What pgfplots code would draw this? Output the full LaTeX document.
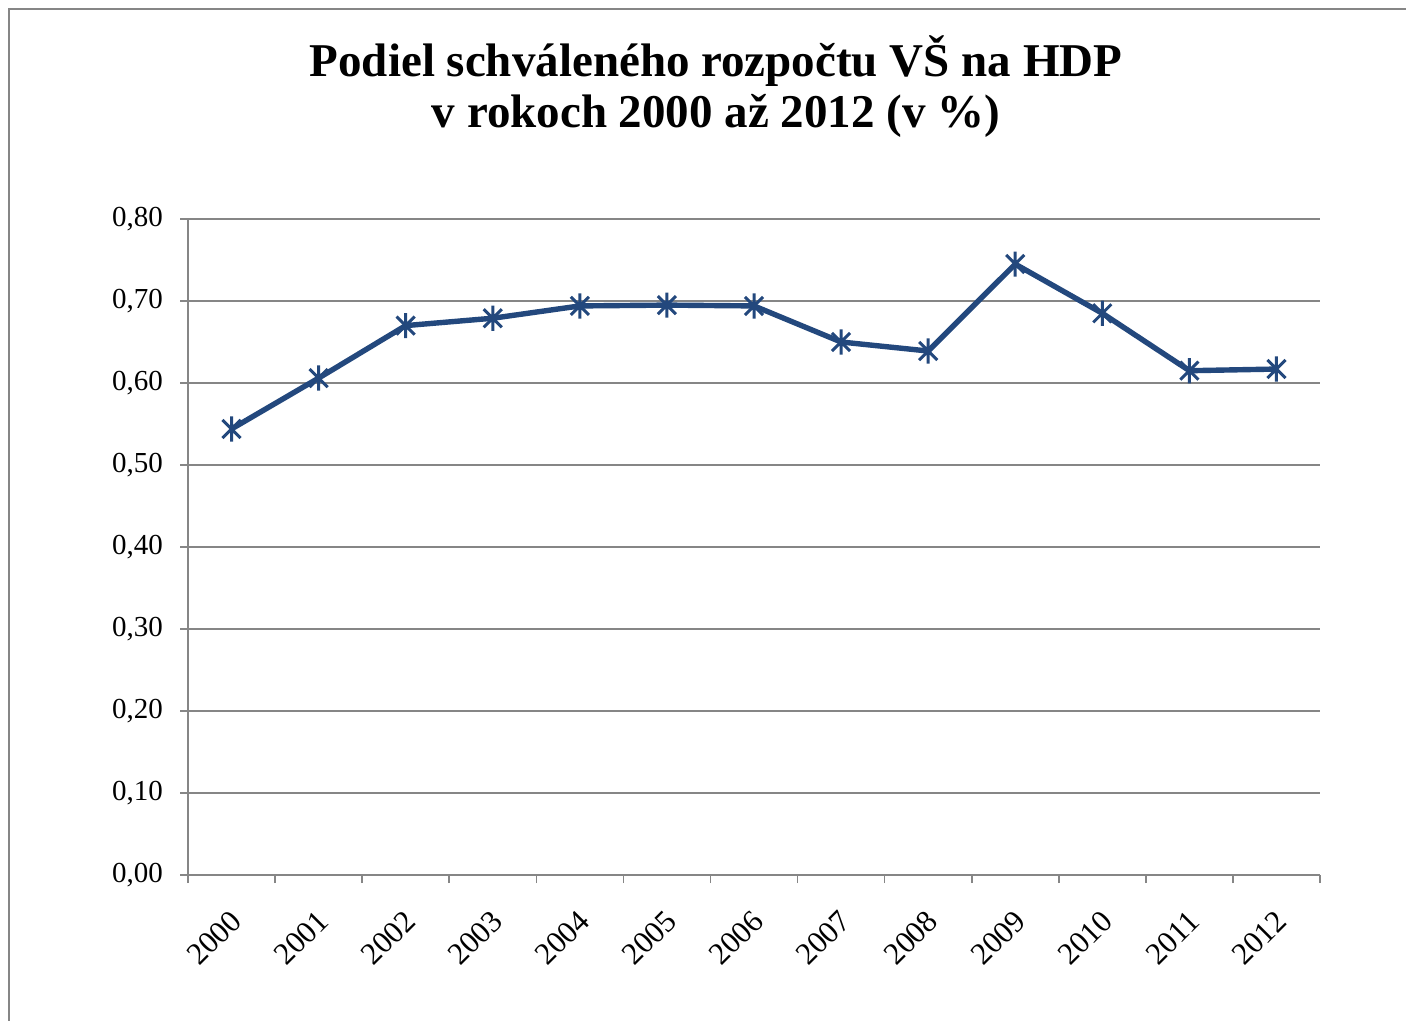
\documentclass[border=0pt]{standalone}
\usepackage{pgfplots}
\pgfplotsset{compat=1.18}
\usepackage{fontspec}
\setmainfont{Liberation Serif}
\definecolor{serie}{RGB}{35,72,125}
\definecolor{gridc}{RGB}{134,134,134}
\pgfdeclareplotmark{xlstar}{%
  \pgfpathmoveto{\pgfqpoint{0pt}{-\pgfplotmarksize}}%
  \pgfpathlineto{\pgfqpoint{0pt}{\pgfplotmarksize}}%
  \pgfpathmoveto{\pgfqpoint{-0.72\pgfplotmarksize}{-0.72\pgfplotmarksize}}%
  \pgfpathlineto{\pgfqpoint{0.72\pgfplotmarksize}{0.72\pgfplotmarksize}}%
  \pgfpathmoveto{\pgfqpoint{-0.72\pgfplotmarksize}{0.72\pgfplotmarksize}}%
  \pgfpathlineto{\pgfqpoint{0.72\pgfplotmarksize}{-0.72\pgfplotmarksize}}%
  \pgfusepathqstroke}
\begin{document}
\begin{tikzpicture}
\useasboundingbox (0,0) rectangle (703bp,510.5bp);
\draw[gridc, line width=1.2bp] (4.5bp,0) -- (4.5bp,506bp) -- (703bp,506bp);
\node[anchor=base, font=\fontsize{23.5bp}{28bp}\selectfont\bfseries] at (358bp,472bp) {Podiel schváleného rozpočtu VŠ na HDP};
\node[anchor=base, font=\fontsize{23.5bp}{28bp}\selectfont\bfseries] at (358bp,446.5bp) {v rokoch 2000 až 2012 (v \%)};
\begin{axis}[
  at={(94bp,73bp)}, anchor=south west,
  width=566bp, height=328bp, scale only axis,
  xmin=-0.5, xmax=12.5, ymin=0, ymax=0.8,
  axis x line*=bottom, axis y line*=left,
  axis line style={gridc, line width=0.8bp},
  xtick={0,...,12},
  xticklabels={2000,2001,2002,2003,2004,2005,2006,2007,2008,2009,2010,2011,2012},
  minor xtick={-0.5,0.5,...,12.5},
  major x tick style={draw=none},
  minor tick length=4bp,
  ytick={0,0.1,...,0.8},
  major tick length=4bp,
  tick align=outside,
  tick style={gridc, line width=0.8bp},
  ymajorgrids,
  grid style={gridc, line width=0.8bp},
  tick label style={font=\fontsize{14.5bp}{16bp}\selectfont},
  yticklabel style={xshift=-5bp, /pgf/number format/.cd, fixed, fixed zerofill, precision=2, use comma, assume math mode=true},
  xticklabel style={font=\fontsize{15.5bp}{17bp}\selectfont, rotate=45, anchor=north east, xshift=-6.5bp, yshift=-4.5bp},
  clip=false,
]
\addplot[serie, line width=2.7bp, mark=xlstar, mark size=6.3bp, mark options={line width=1.5bp}]
coordinates {(0,0.544)(1,0.606)(2,0.670)(3,0.679)(4,0.694)(5,0.695)(6,0.694)(7,0.650)(8,0.639)(9,0.745)(10,0.685)(11,0.615)(12,0.617)};
\end{axis}
\end{tikzpicture}
\end{document}
